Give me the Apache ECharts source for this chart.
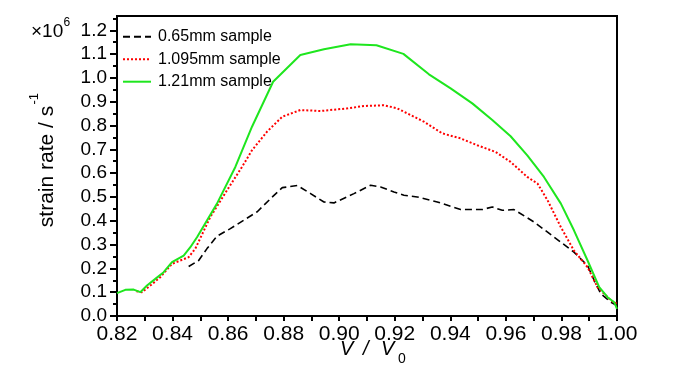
<!DOCTYPE html>
<html><head><meta charset="utf-8">
<script src="https://cdn.jsdelivr.net/npm/echarts@6/dist/echarts.min.js"></script>
<style>html,body{margin:0;padding:0;background:#fff}#c{width:700px;height:374px}</style>
</head><body><div id="c"></div>
<script>
const seriesNames = ['0.65mm sample', '1.095mm sample', '1.21mm sample'];

const x065 = [0.8458,0.8494,0.8524,0.856,0.8608,0.8656,0.8705,0.8752,0.8795,0.8849,0.8897,0.8945,0.8981,0.9053,0.9113,0.9149,0.9197,0.9233,0.9281,0.9353,0.9437,0.9515,0.9551,0.9587,0.9629,0.9701,0.9798,0.9845,0.9894,0.9918,0.9942,0.9978,1.0];
const y065 = [0.208,0.233,0.283,0.335,0.367,0.402,0.438,0.492,0.539,0.548,0.514,0.479,0.475,0.514,0.549,0.542,0.521,0.507,0.500,0.479,0.447,0.447,0.458,0.444,0.447,0.395,0.310,0.268,0.212,0.149,0.093,0.058,0.044];

const x1095 = [0.827,0.829,0.832,0.8356,0.8398,0.8458,0.8482,0.8536,0.8596,0.865,0.8686,0.874,0.8795,0.886,0.8933,0.9029,0.9089,0.9161,0.9209,0.9305,0.9371,0.9437,0.9497,0.9563,0.9617,0.9677,0.9714,0.975,0.9798,0.9845,0.9894,0.993,0.9978,1.0];
const y1095 = [0.104,0.100,0.128,0.163,0.219,0.247,0.283,0.416,0.528,0.626,0.696,0.774,0.837,0.865,0.861,0.872,0.882,0.885,0.872,0.816,0.767,0.746,0.717,0.689,0.647,0.584,0.556,0.486,0.373,0.275,0.205,0.121,0.065,0.051];

const x121 = [0.82,0.823,0.826,0.8284,0.8308,0.8338,0.8368,0.8398,0.844,0.8464,0.8488,0.856,0.8626,0.8686,0.8762,0.886,0.8945,0.9041,0.9134,0.9231,0.9323,0.9401,0.9479,0.9551,0.9617,0.9677,0.9737,0.9798,0.9845,0.9894,0.9936,0.9966,0.999,1.0];
const y121 = [0.096,0.110,0.111,0.100,0.128,0.156,0.184,0.226,0.254,0.289,0.331,0.472,0.626,0.795,0.984,1.096,1.120,1.141,1.137,1.101,1.015,0.956,0.893,0.823,0.755,0.675,0.584,0.472,0.360,0.233,0.121,0.079,0.058,0.030];

const yTickValues = [0,0.1,0.2,0.3,0.4,0.5,0.6,0.7,0.8,0.9,1.0,1.1,1.2];
const yMinorTickValues = [0.05,0.15,0.25,0.35,0.45,0.55,0.65,0.75,0.85,0.95,1.05,1.15,1.25];

const pair = (xs, ys) => xs.map((x, i) => [x, ys[i]]);
const FONT = "'Liberation Sans',Arial,sans-serif";

const chart = echarts.init(document.getElementById('c'), null, {renderer: 'canvas'});
chart.setOption({
  animation: false,
  backgroundColor: '#fff',
  grid: {left: 117, right: 83, top: 16, bottom: 58, show: true, borderColor: '#000', borderWidth: 2, backgroundColor: 'transparent'},
  legend: {
    orient: 'vertical', left: 117, top: 22.7, itemWidth: 28, itemHeight: 14, itemGap: 4.5,
    itemStyle: {opacity: 0},
    textStyle: {fontFamily: FONT, fontSize: 16, color: '#000', lineHeight: 18, padding: [0,0,0,2]},
    data: seriesNames
  },
  xAxis: {
    type: 'value', min: 0.82, max: 1.0, interval: 0.02,
    axisLine: {show: true, onZero: false, lineStyle: {color: '#000', width: 2}},
    axisTick: {show: true, inside: false, length: 5, lineStyle: {color: '#000', width: 2}},
    minorTick: {show: true, splitNumber: 2, length: 5, lineStyle: {color: '#000', width: 2}},
    splitLine: {show: false},
    axisLabel: {fontFamily: FONT, fontSize: 21, color: '#000', margin: 8, formatter: v => v.toFixed(2)}
  },
  yAxis: [{
    type: 'value', min: 0, max: 1.26, position: 'left',
    axisLine: {show: true, onZero: false, lineStyle: {color: '#000', width: 2}},
    axisTick: {show: true, inside: false, length: 7, customValues: yTickValues, lineStyle: {color: '#000', width: 2}},
    splitLine: {show: false},
    axisLabel: {fontFamily: FONT, fontSize: 19, color: '#000', margin: 10, customValues: yTickValues, formatter: v => v.toFixed(1)}
  }, {
    type: 'value', min: 0, max: 1.26, position: 'left', offset: 0,
    axisLine: {show: false},
    axisTick: {show: true, inside: false, length: 4, customValues: yMinorTickValues, lineStyle: {color: '#000', width: 2}},
    splitLine: {show: false},
    axisLabel: {show: false}
  }],
  series: [
    {name: seriesNames[0], type: 'line', data: pair(x065, y065), symbol: 'none', showSymbol: false,
     lineStyle: {color: '#000', width: 1.6, type: [7, 4]}, itemStyle: {color: '#000'}},
    {name: seriesNames[1], type: 'line', data: pair(x1095, y1095), symbol: 'none', showSymbol: false,
     lineStyle: {color: '#ff0000', width: 2, type: [2, 2]}, itemStyle: {color: '#ff0000'}},
    {name: seriesNames[2], type: 'line', data: pair(x121, y121), symbol: 'none', showSymbol: false,
     lineStyle: {color: '#1ee61e', width: 2, type: 'solid'}, itemStyle: {color: '#1ee61e'}}
  ],
  graphic: [
    {type: 'text', x: 31, y: 32.2, style: {text: '×10', font: '19px ' + FONT, fill: '#000', textAlign: 'left', textVerticalAlign: 'middle'}},
    {type: 'text', x: 63.5, y: 22.3, style: {text: '6', font: '12px ' + FONT, fill: '#000', textAlign: 'left', textVerticalAlign: 'middle'}},
    {type: 'group', x: 47, y: 166.5, rotation: Math.PI / 2, children: [
      {type: 'text', x: 0, y: 0, style: {text: 'strain rate / s', font: '21px ' + FONT, fill: '#000', textAlign: 'center', textVerticalAlign: 'middle'}},
      {type: 'text', x: 62, y: -13, style: {text: '-1', font: '13px ' + FONT, fill: '#000', textAlign: 'left', textVerticalAlign: 'middle'}}
    ]},
    {type: 'text', x: 340, y: 349.3, style: {text: 'V', font: 'italic 20px ' + FONT, fill: '#000', textAlign: 'left', textVerticalAlign: 'middle'}},
    {type: 'text', x: 363, y: 349.3, style: {text: '/', font: 'italic 20px ' + FONT, fill: '#000', textAlign: 'left', textVerticalAlign: 'middle'}},
    {type: 'text', x: 381, y: 349.3, style: {text: 'V', font: 'italic 20px ' + FONT, fill: '#000', textAlign: 'left', textVerticalAlign: 'middle'}},
    {type: 'text', x: 398, y: 359.5, style: {text: '0', font: '14px ' + FONT, fill: '#000', textAlign: 'left', textVerticalAlign: 'middle'}}
  ]
});
</script></body></html>
